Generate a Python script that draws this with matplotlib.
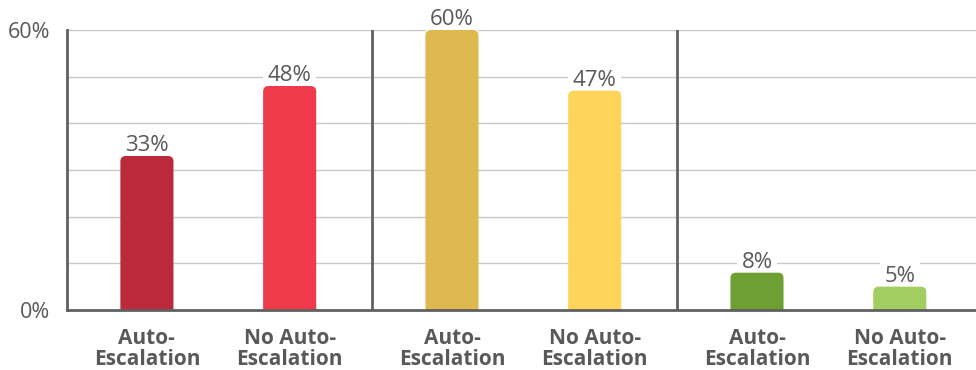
import matplotlib
matplotlib.use('Agg')
import matplotlib.pyplot as plt
from matplotlib.patches import FancyBboxPatch

# ---- data ----
groups = [0, 0, 1, 1, 2, 2]
categories = ["Auto-\nEscalation", "No Auto-\nEscalation",
              "Auto-\nEscalation", "No Auto-\nEscalation",
              "Auto-\nEscalation", "No Auto-\nEscalation"]
values = [33, 48, 60, 47, 8, 5]
value_labels = ["33%", "48%", "60%", "47%", "8%", "5%"]
colors = ["#BB2A3B", "#EE3A4B", "#DDB94F", "#FED45B", "#6E9F33", "#A2CD60"]
y_ticks = [0, 10, 20, 30, 40, 50, 60]
y_tick_labels = ["0%", "", "", "", "", "", "60%"]

plt.rcParams['font.family'] = ['Open Sans', 'DejaVu Sans']
TXT = '#595959'
SPINE = '#606060'

fig = plt.figure(figsize=(9.76, 3.7), dpi=100)
ax = fig.add_axes([67/976, 1 - 310/370, 1 - 67/976, 280/370])

within = [0.262, 0.73]
xpos = [g + within[i % 2] for i, g in enumerate(groups)]
bw = 0.174

ax.set_xlim(0, 2.98)
ax.set_ylim(0, 60)

bars = ax.bar(xpos, values, width=bw, color=colors, zorder=2)

# rounded top corners
fig.canvas.draw()
px_per_x = ax.transData.transform((1, 0))[0] - ax.transData.transform((0, 0))[0]
px_per_y = ax.transData.transform((0, 1))[1] - ax.transData.transform((0, 0))[1]
r_px = 5.5
rx = r_px / px_per_x
ry = r_px / px_per_y
for b, c in zip(bars, colors):
    x, w, h = b.get_x(), b.get_width(), b.get_height()
    b.set_visible(False)
    p = FancyBboxPatch((x, -ry * 2), w, h + ry * 2,
                       boxstyle=f"round,pad=0,rounding_size={rx}",
                       mutation_aspect=ry / rx, fc=c, ec='none', zorder=2)
    ax.add_patch(p)

for x, v, lab in zip(xpos, values, value_labels):
    ax.annotate(lab, (x, v), xytext=(0, 3.5), textcoords='offset points',
                ha='center', va='baseline', fontsize=16, color=TXT, zorder=1.5,
                bbox=dict(boxstyle='square,pad=0.2', fc='white', ec='none'))

for sep in [1, 2]:
    ax.axvline(sep, color=SPINE, lw=2, zorder=3)

ax.set_yticks(y_ticks)
ax.set_yticklabels(y_tick_labels)
ax.yaxis.grid(True, color='#c8c8c8', lw=1)
ax.set_axisbelow(True)
ax.tick_params(axis='y', length=0, pad=12, labelsize=15.5, labelcolor=TXT)

ax.set_xticks(xpos)
ax.set_xticklabels(categories, fontweight='bold', fontsize=15, color=TXT,
                   linespacing=0.98)
ax.tick_params(axis='x', length=0, pad=13)

for s in ['top', 'right']:
    ax.spines[s].set_visible(False)
for s in ['left', 'bottom']:
    ax.spines[s].set_color(SPINE)
    ax.spines[s].set_linewidth(2)
    ax.spines[s].set_zorder(3)

fig.savefig('out.png', dpi=100)
